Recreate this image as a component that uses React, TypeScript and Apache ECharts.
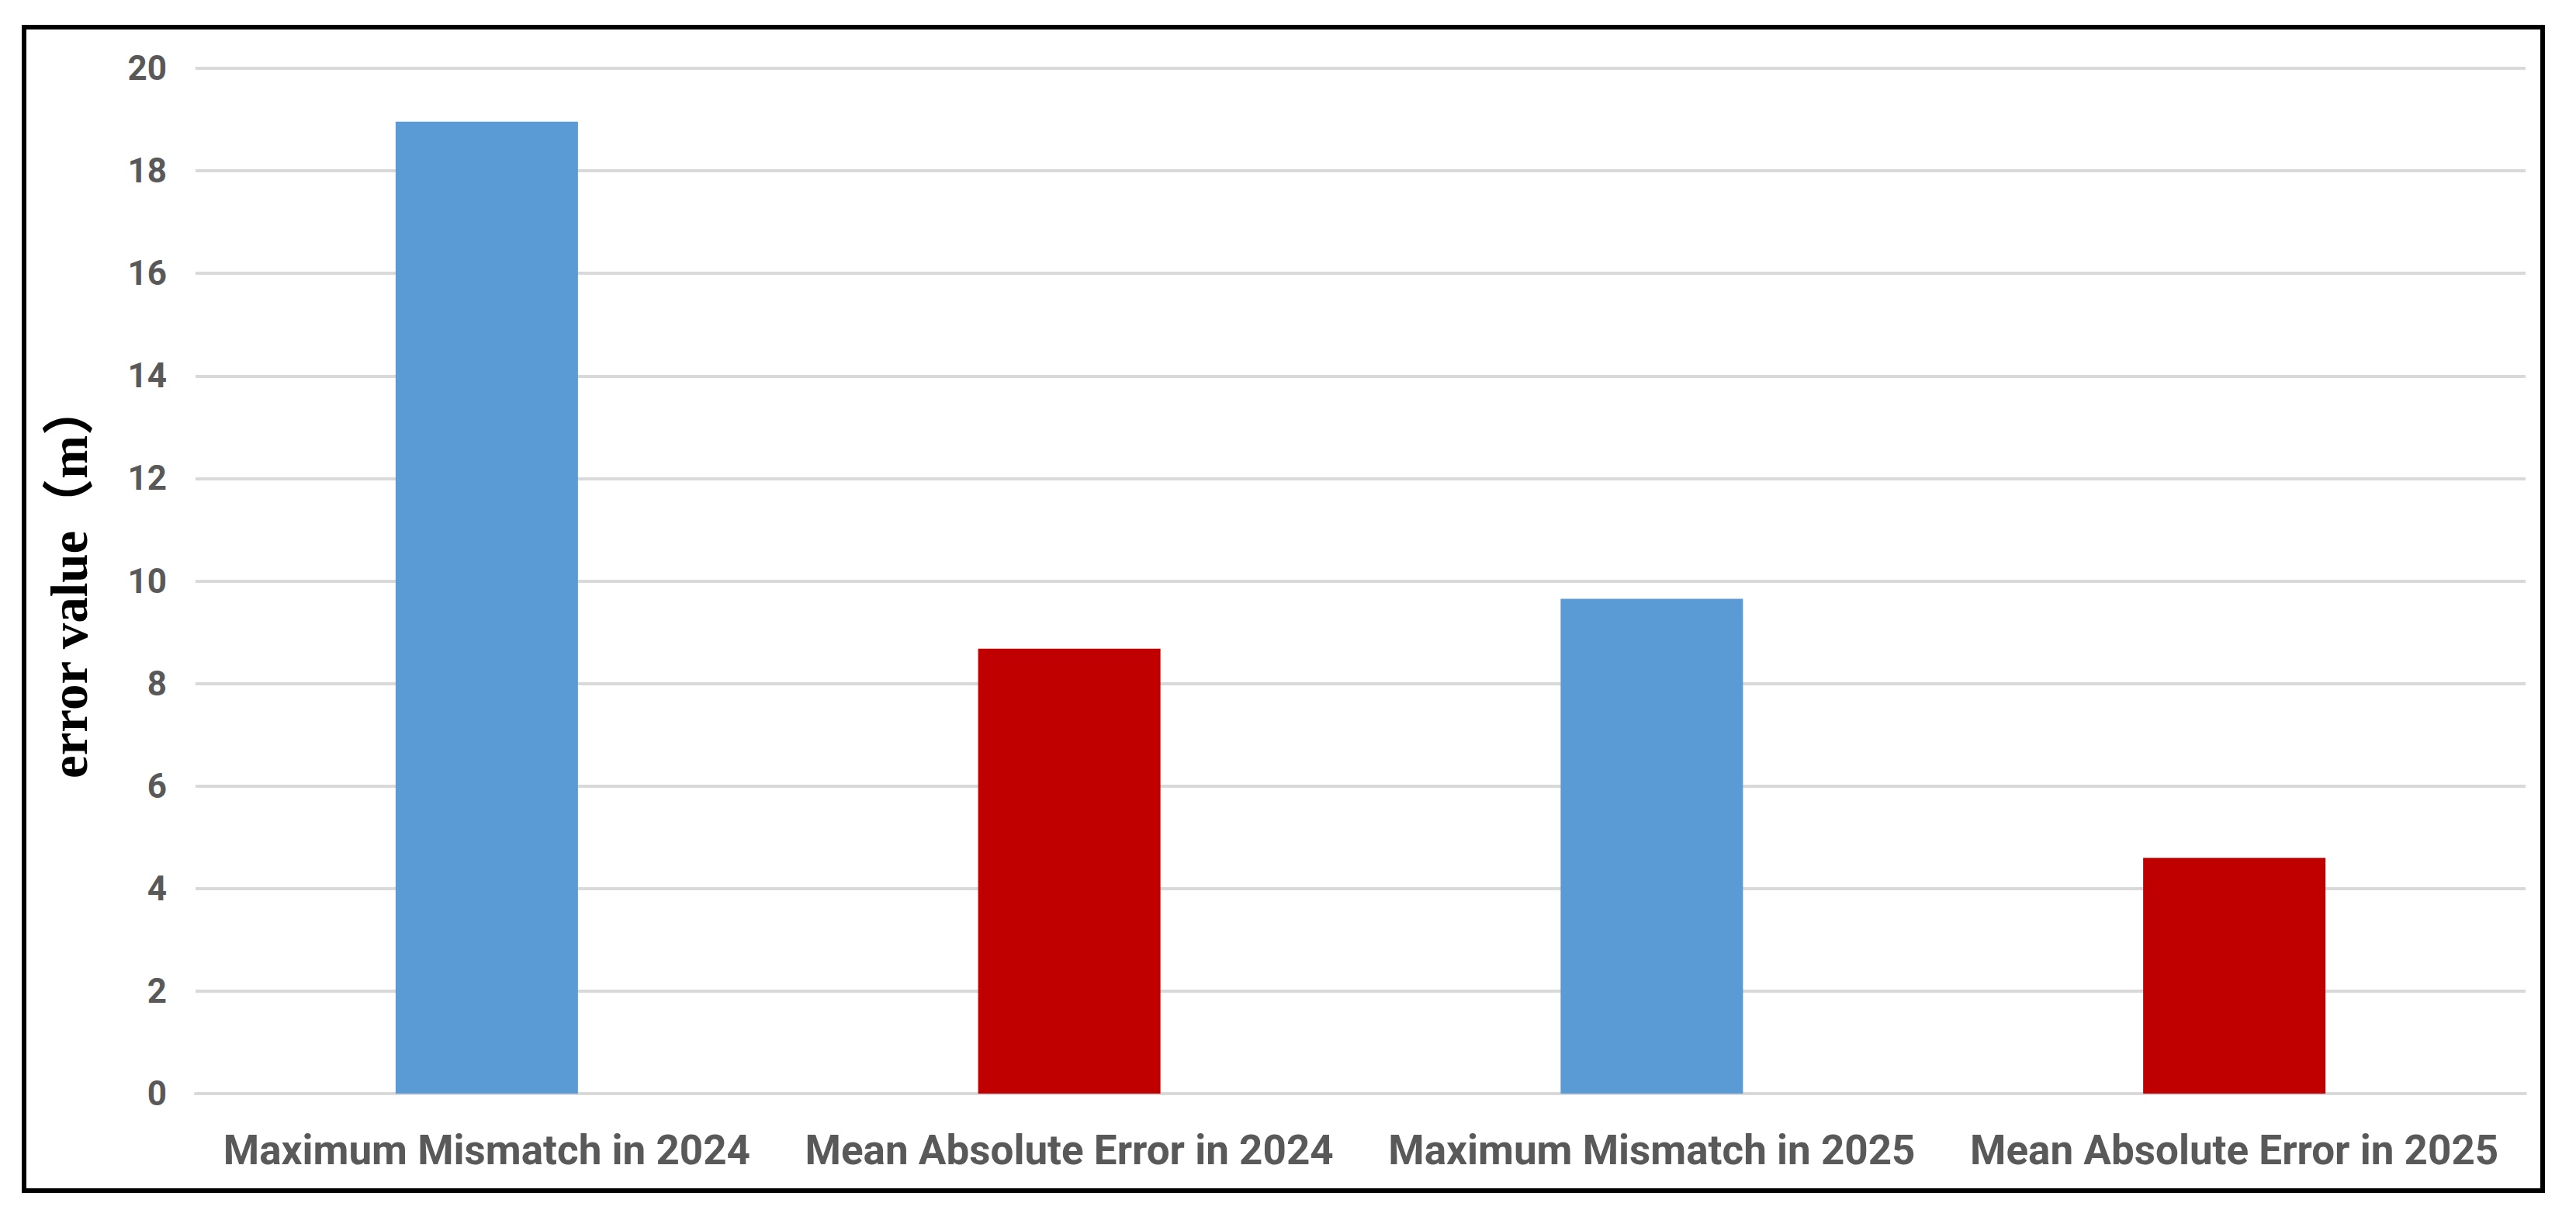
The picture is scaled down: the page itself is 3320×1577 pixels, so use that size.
import React, { useEffect, useRef } from "react";
import * as echarts from "echarts";

const categories = [
  "Maximum Mismatch in 2024",
  "Mean Absolute Error in 2024",
  "Maximum Mismatch in 2025",
  "Mean Absolute Error in 2025",
];
const errorValues = [18.96, 8.68, 9.65, 4.6];
const yAxisTitle = "error value（m）";
const yMin = 0;
const yMax = 20;
const yStep = 2;

const BLUE = "#5B9BD5";
const RED = "#C00000";

export default function App() {
  const ref = useRef<HTMLDivElement>(null);

  useEffect(() => {
    if (!ref.current) return;
    const chart = echarts.init(ref.current, undefined, { renderer: "svg" });
    chart.setOption({
      animation: false,
      backgroundColor: "#ffffff",
      grid: { left: 252, right: 65, top: 88, bottom: 168, containLabel: false },
      xAxis: {
        type: "category",
        data: categories,
        axisLine: { show: true, lineStyle: { color: "#D9D9D9", width: 4 } },
        axisTick: { show: false },
        axisLabel: {
          color: "#595959",
          fontFamily: "Roboto",
          fontWeight: "bold",
          fontSize: 53,
          margin: 46,
          interval: 0,
        },
      },
      yAxis: {
        type: "value",
        min: yMin,
        max: yMax,
        interval: yStep,
        name: yAxisTitle,
        nameLocation: "middle",
        nameGap: 130,
        nameTextStyle: {
          color: "#000000",
          fontFamily: "'Liberation Serif', 'Noto Sans CJK SC', serif",
          fontWeight: "bold",
          fontSize: 67,
        },
        axisLine: { show: false },
        axisTick: { show: false },
        splitLine: { show: true, lineStyle: { color: "#D9D9D9", width: 4 } },
        axisLabel: {
          color: "#595959",
          fontFamily: "Roboto",
          fontWeight: "bold",
          fontSize: 44,
          margin: 37,
        },
      },
      series: [
        {
          type: "bar",
          data: errorValues,
          barWidth: 235,
          itemStyle: {
            color: (p: any) =>
              String(p.name).startsWith("Maximum") ? BLUE : RED,
          },
        },
      ],
      graphic: [
        {
          type: "rect",
          shape: { x: 31, y: 35, width: 3246, height: 1499 },
          style: { fill: "none", stroke: "#000000", lineWidth: 6 },
          silent: true,
          z: 100,
        },
      ],
    });
    return () => chart.dispose();
  }, []);

  return (
    <div
      ref={ref}
      style={{ position: "absolute", left: 0, top: 0, width: 3320, height: 1577 }}
    />
  );
}
